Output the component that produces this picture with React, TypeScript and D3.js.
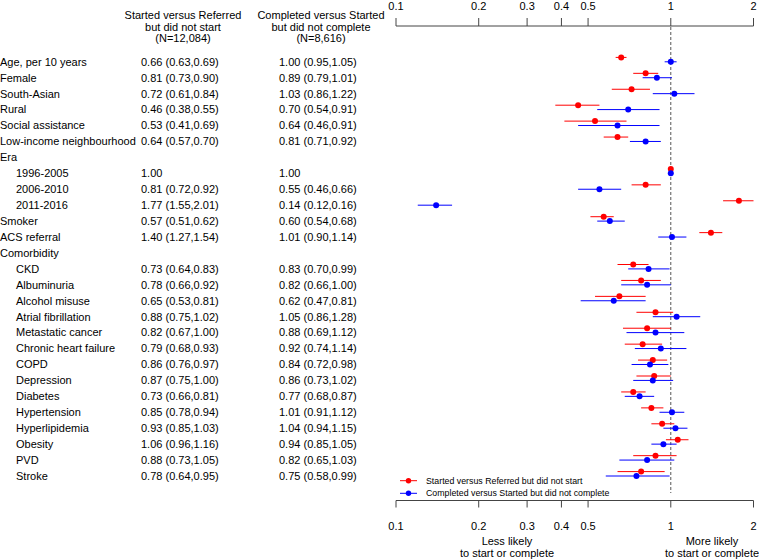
import React from "react";
import * as d3 from "d3";

const labels = [
  "Age, per 10 years", "Female", "South-Asian", "Rural", "Social assistance",
  "Low-income neighbourhood", "Era", "1996-2005", "2006-2010", "2011-2016",
  "Smoker", "ACS referral", "Comorbidity", "CKD", "Albuminuria", "Alcohol misuse",
  "Atrial fibrillation", "Metastatic cancer", "Chronic heart failure", "COPD",
  "Depression", "Diabetes", "Hypertension", "Hyperlipidemia", "Obesity", "PVD", "Stroke",
];
const indented = [
  false, false, false, false, false, false, false, true, true, true,
  false, false, false, true, true, true, true, true, true, true,
  true, true, true, true, true, true, true,
];
// Started versus Referred but did not start
const startEst = [0.66, 0.81, 0.72, 0.46, 0.53, 0.64, null, 1.0, 0.81, 1.77, 0.57, 1.40, null, 0.73, 0.78, 0.65, 0.88, 0.82, 0.79, 0.86, 0.87, 0.73, 0.85, 0.93, 1.06, 0.88, 0.78];
const startLo = [0.63, 0.73, 0.61, 0.38, 0.41, 0.57, null, null, 0.72, 1.55, 0.51, 1.27, null, 0.64, 0.66, 0.53, 0.75, 0.67, 0.68, 0.76, 0.75, 0.66, 0.78, 0.85, 0.96, 0.73, 0.64];
const startHi = [0.69, 0.90, 0.84, 0.55, 0.69, 0.70, null, null, 0.92, 2.01, 0.62, 1.54, null, 0.83, 0.92, 0.81, 1.02, 1.00, 0.93, 0.97, 1.00, 0.81, 0.94, 1.03, 1.16, 1.05, 0.95];
// Completed versus Started but did not complete
const compEst = [1.0, 0.89, 1.03, 0.70, 0.64, 0.81, null, 1.0, 0.55, 0.14, 0.60, 1.01, null, 0.83, 0.82, 0.62, 1.05, 0.88, 0.92, 0.84, 0.86, 0.77, 1.01, 1.04, 0.94, 0.82, 0.75];
const compLo = [0.95, 0.79, 0.86, 0.54, 0.46, 0.71, null, null, 0.46, 0.12, 0.54, 0.90, null, 0.70, 0.66, 0.47, 0.86, 0.69, 0.74, 0.72, 0.73, 0.68, 0.91, 0.94, 0.85, 0.65, 0.58];
const compHi = [1.05, 1.01, 1.22, 0.91, 0.91, 0.92, null, null, 0.66, 0.16, 0.68, 1.14, null, 0.99, 1.00, 0.81, 1.28, 1.12, 1.14, 0.98, 1.02, 0.87, 1.12, 1.15, 1.05, 1.03, 0.99];

const tickValues = [0.1, 0.2, 0.3, 0.4, 0.5, 1, 2];
const tickLabels = ["0.1", "0.2", "0.3", "0.4", "0.5", "1", "2"];
const header1 = ["Started versus Referred", "but did not start", "(N=12,084)"];
const header2 = ["Completed versus Started", "but did not complete", "(N=8,616)"];
const legendLabels = [
  "Started versus Referred but did not start",
  "Completed versus Started but did not complete",
];
const leftNote = ["Less likely", "to start or complete"];
const rightNote = ["More likely", "to start or complete"];

const FONT = "'Liberation Sans', Arial, Helvetica, sans-serif";
const RED = "#ff0000";
const BLUE = "#0000ff";

function fmt(est: number | null, lo: number | null, hi: number | null) {
  if (est == null) return "";
  if (lo == null || hi == null) return est.toFixed(2);
  return `${est.toFixed(2)} (${lo.toFixed(2)},${hi.toFixed(2)})`;
}

export default function App() {
  const W = 759, H = 560;
  const x = d3.scaleLog().domain([0.1, 2]).range([396, 753.5]);
  const y = d3.scaleLinear().domain([0, labels.length - 1]).range([61.8, 476]);
  const redOff = -4.4;
  const clamp = (v: number) => Math.max(0.1, Math.min(2, v));
  const topAxisY = 26;
  const botAxisY = 500.5;

  const series = [
    { est: startEst, lo: startLo, hi: startHi, color: RED, off: redOff },
    { est: compEst, lo: compLo, hi: compHi, color: BLUE, off: 0 },
  ];

  return (
    <svg width={W} height={H} style={{ position: "absolute", left: 0, top: 0, background: "#fff" }} fontFamily={FONT}>
      {/* headers */}
      {header1.map((t, i) => (
        <text key={"h1" + i} x={183} y={15.5 + i * 11.5} dy="0.35em" textAnchor="middle" fontSize={11} fill="#000">{t}</text>
      ))}
      {header2.map((t, i) => (
        <text key={"h2" + i} x={321} y={15.5 + i * 11.5} dy="0.35em" textAnchor="middle" fontSize={11} fill="#000">{t}</text>
      ))}
      {/* table rows */}
      {labels.map((lab, i) => (
        <g key={"row" + i}>
          <text x={indented[i] ? 16 : 0} y={y(i)} dy="0.35em" fontSize={11} fill="#000">{lab}</text>
          <text x={141} y={y(i)} dy="0.35em" fontSize={11} fill="#000">{fmt(startEst[i], startLo[i], startHi[i])}</text>
          <text x={279} y={y(i)} dy="0.35em" fontSize={11} fill="#000">{fmt(compEst[i], compLo[i], compHi[i])}</text>
        </g>
      ))}
      {/* top axis */}
      <line x1={x(0.1)} x2={x(2)} y1={topAxisY} y2={topAxisY} stroke="#444" strokeWidth={1} />
      {tickValues.map((v, i) => (
        <g key={"tt" + i}>
          <line x1={x(v)} x2={x(v)} y1={topAxisY} y2={topAxisY - 8} stroke="#444" strokeWidth={1} />
          <text x={x(v)} y={6.5} dy="0.35em" textAnchor="middle" fontSize={11} fill="#000">{tickLabels[i]}</text>
        </g>
      ))}
      {/* bottom axis */}
      <line x1={x(0.1)} x2={x(2)} y1={botAxisY} y2={botAxisY} stroke="#444" strokeWidth={1} />
      {tickValues.map((v, i) => (
        <g key={"bt" + i}>
          <line x1={x(v)} x2={x(v)} y1={botAxisY} y2={botAxisY + 7} stroke="#444" strokeWidth={1} />
          <text x={x(v)} y={526} dy="0.35em" textAnchor="middle" fontSize={11} fill="#000">{tickLabels[i]}</text>
        </g>
      ))}
      {leftNote.map((t, i) => (
        <text key={"ln" + i} x={507} y={541 + i * 12.5} dy="0.35em" textAnchor="middle" fontSize={11} fill="#000">{t}</text>
      ))}
      {rightNote.map((t, i) => (
        <text key={"rn" + i} x={712} y={541 + i * 12.5} dy="0.35em" textAnchor="middle" fontSize={11} fill="#000">{t}</text>
      ))}
      {/* reference line */}
      <line x1={x(1)} x2={x(1)} y1={27} y2={493} stroke="#555" strokeWidth={1} strokeDasharray="3,2" />
      {/* CIs and points */}
      {series.map((s, si) => (
        <g key={"s" + si}>
          {s.est.map((e, i) => {
            if (e == null) return null;
            const lo = s.lo[i], hi = s.hi[i];
            const yy = y(i) + s.off;
            return (
              <g key={i}>
                {lo != null && hi != null && (
                  <line x1={x(clamp(lo))} x2={x(clamp(hi))} y1={yy} y2={yy} stroke={s.color} strokeWidth={1} />
                )}
                <circle cx={x(e)} cy={yy} r={3} fill={s.color} />
              </g>
            );
          })}
        </g>
      ))}
      {/* legend */}
      {legendLabels.map((t, i) => {
        const ly = 480.7 + i * 12.6;
        const c = i === 0 ? RED : BLUE;
        return (
          <g key={"lg" + i}>
            <line x1={400} x2={417} y1={ly} y2={ly} stroke={c} strokeWidth={1} />
            <circle cx={408.5} cy={ly} r={2.7} fill={c} />
            <text x={426} y={ly} dy="0.35em" fontSize={8.8} fill="#000">{t}</text>
          </g>
        );
      })}
    </svg>
  );
}
